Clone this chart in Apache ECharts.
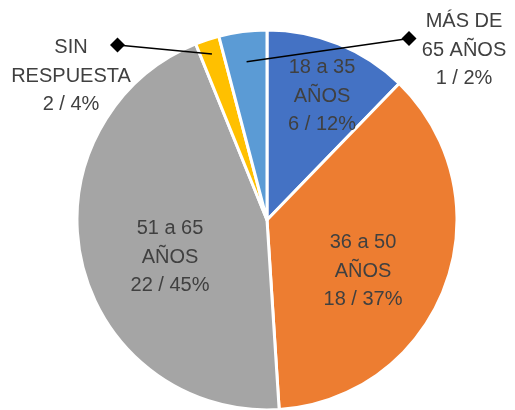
<!DOCTYPE html>
<html>
<head>
<meta charset="utf-8">
<script src="https://cdn.jsdelivr.net/npm/echarts@6/dist/echarts.min.js"></script>
<style>
  html, body { margin: 0; padding: 0; background: #fff; }
  #main { width: 515px; height: 410px; }
</style>
</head>
<body>
<div id="main"></div>
<script>
// slices clockwise from 12 o'clock
var categories = ['18 a 35\nAÑOS', '36 a 50\nAÑOS', '51 a 65\nAÑOS', 'SIN\nRESPUESTA', 'MÁS DE\n65 AÑOS'];
var sliceValues = [6, 18, 22, 1, 2];
// numbers as printed on the labels
var labelCounts = [6, 18, 22, 2, 1];
var labelPercents = [12, 37, 45, 4, 2];
var colors = ['#4472C4', '#ED7D31', '#A5A5A5', '#FFC000', '#5B9BD5'];

// label centres (px)
var labelPos = [[322, 96], [363, 271], [170, 257], [71, 76], [464, 50]];
// leader lines: diamond end + how deep into the slice the line starts
var leaders = { 3: { end: [117.5, 45], depth: 0.92 }, 4: { end: [409, 38.5], depth: 0.84 } };

var myChart = echarts.init(document.getElementById('main'));

var data = [];
for (var i = 0; i < sliceValues.length; i++) {
  data.push({
    name: categories[i],
    value: sliceValues[i],
    itemStyle: { color: colors[i] }
  });
}

var option = {
  animation: false,
  series: [{
    type: 'pie',
    center: [267, 220],
    radius: 190,
    startAngle: 90,
    clockwise: true,
    avoidLabelOverlap: false,
    itemStyle: { borderColor: '#fff', borderWidth: 3 },
    label: {
      show: true,
      position: 'inside',
      color: '#404040',
      fontFamily: 'Liberation Sans',
      fontSize: 20,
      lineHeight: 28.5,
      align: 'center',
      formatter: function(p) {
        return p.name + '\n' + labelCounts[p.dataIndex] + ' / ' + labelPercents[p.dataIndex] + '%';
      }
    },
    labelLine: { show: false },
    labelLayout: function(params) {
      var pos = labelPos[params.dataIndex];
      return { x: pos[0], y: pos[1], align: 'center', verticalAlign: 'middle' };
    },
    data: data
  }]
};
myChart.setOption(option);

// leader lines with diamond ends, starting from the slice layout
var seriesData = myChart.getModel().getSeriesByIndex(0).getData();
var graphics = [];
for (var k in leaders) {
  var idx = +k;
  var lay = seriesData.getItemLayout(idx);
  var mid = (lay.startAngle + lay.endAngle) / 2;
  var rr = lay.r * leaders[k].depth;
  var sx = lay.cx + rr * Math.cos(mid);
  var sy = lay.cy + rr * Math.sin(mid);
  var e = leaders[k].end;
  graphics.push({
    type: 'line',
    shape: { x1: sx, y1: sy, x2: e[0], y2: e[1] },
    style: { stroke: '#000', lineWidth: 1.5 },
    z: 10
  });
  graphics.push({
    type: 'polygon',
    shape: { points: [[e[0], e[1] - 7.5], [e[0] + 7.5, e[1]], [e[0], e[1] + 7.5], [e[0] - 7.5, e[1]]] },
    style: { fill: '#000' },
    z: 10
  });
}
myChart.setOption({ graphic: graphics });
</script>
</body>
</html>
